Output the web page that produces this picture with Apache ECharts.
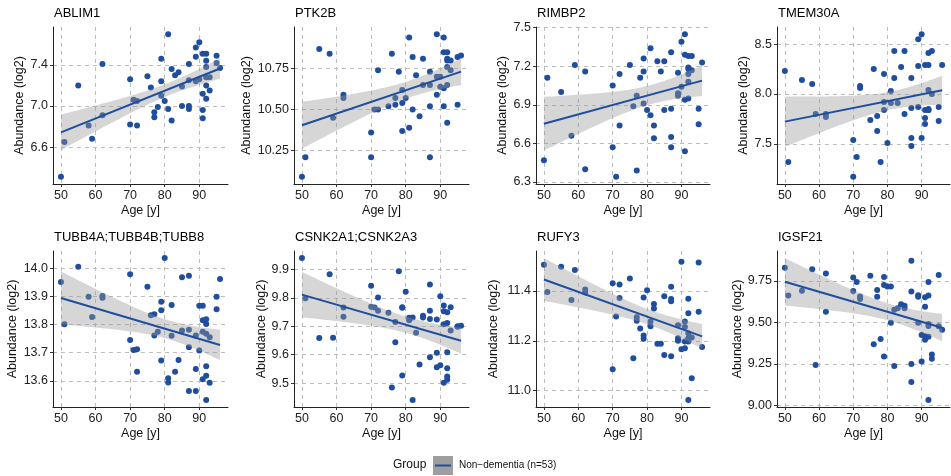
<!DOCTYPE html>
<html><head><meta charset="utf-8">
<script src="https://cdn.jsdelivr.net/npm/echarts@6/dist/echarts.min.js"></script>
<style>html,body{margin:0;padding:0;background:#fff}#c{width:951px;height:476px}</style>
</head><body><div id="c"></div>
<script>
// ---------- data ----------
const ages = [50,51,55,58,59,62,62,70,70,71,72,72,75,76,77,77,78,79,79,79,80,81,81,82,82,83,84,85,85,87,87,87,87,89,89,89,90,90,91,91,91,91,92,92,92,92,92,92,93,93,95,95,96];
const genes = ['ABLIM1','PTK2B','RIMBP2','TMEM30A','TUBB4A;TUBB4B;TUBB8','CSNK2A1;CSNK2A3','RUFY3','IGSF21'];
const ablim1 = [6.31,6.65,7.20,6.81,6.68,7.41,6.91,7.26,6.82,7.06,7.05,6.81,7.29,7.18,6.94,6.89,6.99,7.46,7.24,7.10,7.05,7.70,6.97,7.36,6.86,7.30,7.33,7.19,7.00,7.41,7.25,7.00,6.97,7.57,7.48,7.24,7.62,7.26,7.51,7.12,6.96,6.88,7.51,7.44,7.38,7.20,7.07,7.28,7.28,7.15,7.49,7.42,7.37];
const ptk2b = [10.09,10.21,10.87,10.84,10.45,10.59,10.57,10.36,10.21,10.50,10.74,10.50,10.52,10.84,10.57,10.53,10.73,10.62,10.54,10.37,10.57,10.94,10.39,10.82,10.50,10.71,10.46,10.81,10.65,10.73,10.65,10.52,10.21,10.96,10.70,10.59,10.70,10.64,10.94,10.85,10.63,10.52,10.81,10.85,10.80,10.76,10.65,10.42,10.80,10.74,10.82,10.53,10.83];
const rimbp2 = [6.47,7.11,7.00,6.66,7.21,7.16,6.40,7.05,6.57,6.34,7.14,6.74,7.21,6.89,6.97,6.39,7.11,7.26,7.16,6.91,6.86,7.34,6.82,6.74,6.64,7.24,7.16,7.24,6.86,7.31,6.87,6.65,6.57,7.15,6.99,6.97,7.39,7.04,7.45,7.29,6.94,6.54,7.28,7.19,7.14,7.08,6.95,7.18,7.28,7.17,6.87,6.75,7.23];
const tmem30a = [8.23,7.32,8.14,8.10,7.80,7.80,7.77,7.54,7.17,7.37,8.08,8.06,7.74,8.25,7.78,7.63,7.32,8.20,7.92,7.84,7.51,8.03,7.91,8.43,8.16,7.91,8.27,8.43,7.80,8.16,7.86,7.56,7.48,8.55,8.28,7.87,8.60,7.56,8.29,7.84,7.76,7.70,8.41,8.29,8.04,7.84,7.85,7.84,8.43,8.00,7.87,7.73,8.29];
const tubb4a = [13.951,13.801,14.005,13.899,13.827,13.901,13.895,13.979,13.745,13.709,13.712,13.632,13.934,13.833,13.836,13.761,13.774,13.881,13.851,13.672,14.036,13.609,13.594,13.869,13.760,13.632,13.674,13.968,13.779,13.973,13.781,13.719,13.564,13.761,13.642,13.564,13.867,13.708,13.867,13.815,13.774,13.605,13.819,13.767,13.618,13.532,13.802,13.652,13.755,13.593,13.899,13.854,13.962];
const csnk2a1 = [9.940,9.799,9.659,9.883,9.660,9.766,9.734,9.843,9.769,9.766,9.801,9.755,9.748,9.485,9.715,9.644,9.894,9.767,9.765,9.527,9.822,9.721,9.730,9.731,9.441,9.677,9.566,9.737,9.731,9.847,9.755,9.726,9.591,9.724,9.607,9.556,9.806,9.563,9.773,9.753,9.707,9.501,9.749,9.712,9.609,9.523,9.512,9.552,9.767,9.685,9.700,9.698,9.702];
const rufy3 = [11.505,11.396,11.497,11.364,11.484,11.406,11.394,11.431,11.086,11.297,11.426,11.372,11.450,11.130,11.294,11.280,11.249,11.374,11.221,11.208,11.403,11.277,11.258,11.348,11.330,11.188,11.188,11.379,11.143,11.417,11.368,11.359,11.138,11.262,11.210,11.200,11.517,11.166,11.277,11.255,11.197,11.170,11.369,11.310,11.230,10.963,11.197,11.210,11.213,11.050,11.514,11.316,11.175];
const igsf21 = [9.830,9.662,9.691,9.820,9.244,9.795,9.564,9.770,9.689,9.744,9.656,9.641,9.781,9.369,9.695,9.654,9.400,9.773,9.725,9.295,9.717,9.717,9.498,9.576,9.238,9.586,9.609,9.600,9.586,9.871,9.686,9.250,9.141,9.664,9.654,9.498,9.424,9.264,9.652,9.594,9.396,9.416,9.744,9.662,9.479,9.414,9.033,9.490,9.307,9.281,9.785,9.477,9.455];
const xTickLabels = ['50','60','70','80','90'];
const yTickLabels = [
  ['6.6','7.0','7.4'],
  ['10.25','10.50','10.75'],
  ['6.3','6.6','6.9','7.2','7.5'],
  ['7.5','8.0','8.5'],
  ['13.6','13.7','13.8','13.9','14.0'],
  ['9.5','9.6','9.7','9.8','9.9'],
  ['11.0','11.2','11.4'],
  ['9.00','9.25','9.50','9.75']
];
const groupName = 'Non\u2212dementia (n=53)';
// ---------- layout ----------
const values = [ablim1, ptk2b, rimbp2, tmem30a, tubb4a, csnk2a1, rufy3, igsf21];
const FONT = '"Liberation Sans", Arial, Helvetica, sans-serif';
const BLUE = '#1F4E9E';
const gridLefts = [53, 294, 536, 777];
const gridWidths = [175, 175, 174, 173];
const rowTop = [27, 251], rowH = [157, 156];
const nameGaps = [27, 41, 27, 27, 34, 26, 36, 33];

function fit(xs, ys) {
  const n = xs.length;
  const xb = xs.reduce((a, b) => a + b, 0) / n, yb = ys.reduce((a, b) => a + b, 0) / n;
  let sxx = 0, sxy = 0;
  for (let i = 0; i < n; i++) { sxx += (xs[i] - xb) ** 2; sxy += (xs[i] - xb) * (ys[i] - yb); }
  const b = sxy / sxx, a = yb - b * xb;
  let sse = 0;
  for (let i = 0; i < n; i++) sse += (ys[i] - a - b * xs[i]) ** 2;
  const s = Math.sqrt(sse / (n - 2)), t = 2.00758;
  const x0 = Math.min(...xs), x1 = Math.max(...xs);
  const bx = [], lo = [], hi = [];
  for (let k = 0; k <= 80; k++) {
    const x = x0 + (x1 - x0) * k / 80;
    const yh = a + b * x, se = s * Math.sqrt(1 / n + (x - xb) ** 2 / sxx);
    bx.push(x); lo.push(yh - t * se); hi.push(yh + t * se);
  }
  return { a, b, x0, x1, bx, lo, hi };
}

const grids = [], xAxes = [], yAxes = [], series = [], titles = [];
const xt = xTickLabels.map(Number);
values.forEach((ys, i) => {
  const col = i % 4, row = Math.floor(i / 4);
  const f = fit(ages, ys);
  const ymin = Math.min(...ys, ...f.lo), ymax = Math.max(...ys, ...f.hi);
  const yr = ymax - ymin;
  const xmin = Math.min(...ages), xmax = Math.max(...ages), xr = xmax - xmin;
  grids.push({ left: gridLefts[col], width: gridWidths[col], top: rowTop[row], height: rowH[row], containLabel: false });
  titles.push({ text: genes[i], left: gridLefts[col] + 1, top: row ? 231 : 7, padding: 0,
    textStyle: { fontSize: 13, fontWeight: 'normal', color: '#000', fontFamily: FONT } });
  xAxes.push({ type: 'value', gridIndex: i, min: xmin - 0.05 * xr, max: xmax + 0.05 * xr,
    name: 'Age [y]', nameLocation: 'middle', nameGap: 20,
    nameTextStyle: { fontSize: 12.5, color: '#111', fontFamily: FONT },
    axisLine: { onZero: false, lineStyle: { color: '#222', width: 1 } },
    axisTick: { show: true, length: 3, customValues: xt, lineStyle: { color: '#333' } },
    axisLabel: { customValues: xt, margin: 5, fontSize: 12.5, color: '#222', fontFamily: FONT },
    splitLine: { show: true, lineStyle: { type: [4, 4], color: '#bdbdbd', width: 1 } } });
  const yt = yTickLabels[i].map(Number);
  const labelMap = {}; yTickLabels[i].forEach(s => labelMap[Number(s).toFixed(4)] = s);
  yAxes.push({ type: 'value', gridIndex: i, min: ymin - 0.05 * yr, max: ymax + 0.05 * yr,
    name: 'Abundance (log2)', nameLocation: 'middle', nameGap: nameGaps[i],
    nameTextStyle: { fontSize: 12.5, color: '#111', fontFamily: FONT },
    axisLine: { show: true, onZero: false, lineStyle: { color: '#222', width: 1 } },
    axisTick: { show: true, length: 3, customValues: yt, lineStyle: { color: '#333' } },
    axisLabel: { customValues: yt, margin: 5, fontSize: 12.5, color: '#222', fontFamily: FONT,
      formatter: v => labelMap[Number(v).toFixed(4)] || '' },
    splitLine: { show: true, lineStyle: { type: [4, 4], color: '#bdbdbd', width: 1 } } });
  series.push({ type: 'scatter', xAxisIndex: i, yAxisIndex: i, z: 2, symbolSize: 6, silent: true,
    itemStyle: { color: BLUE, opacity: 1 }, data: ages.map((a, k) => [a, ys[k]]) });
  series.push({ type: 'custom', xAxisIndex: i, yAxisIndex: i, z: 3, silent: true,
    data: [[f.x0, f.a + f.b * f.x0]],
    renderItem: (params, api) => {
      const pts = [];
      for (let k = 0; k < f.bx.length; k++) pts.push(api.coord([f.bx[k], f.hi[k]]));
      for (let k = f.bx.length - 1; k >= 0; k--) pts.push(api.coord([f.bx[k], f.lo[k]]));
      return { type: 'polygon', shape: { points: pts }, style: { fill: 'rgba(153,153,153,0.4)' } };
    } });
  series.push({ type: 'line', xAxisIndex: i, yAxisIndex: i, z: 4, silent: true, showSymbol: false,
    lineStyle: { color: BLUE, width: 2 }, data: [[f.x0, f.a + f.b * f.x0], [f.x1, f.a + f.b * f.x1]] });
});

const chart = echarts.init(document.getElementById('c'), null, { renderer: 'canvas' });
chart.setOption({
  animation: false,
  backgroundColor: '#fff',
  title: titles,
  grid: grids, xAxis: xAxes, yAxis: yAxes, series: series,
  graphic: [
    { type: 'text', left: 393, top: 459, style: { text: 'Group', fontSize: 12, fill: '#111', fontFamily: FONT } },
    { type: 'rect', left: 433, top: 456, shape: { width: 20, height: 19 }, style: { fill: '#9e9e9e' } },
    { type: 'line', shape: { x1: 435, y1: 465.5, x2: 451, y2: 465.5 }, style: { stroke: BLUE, lineWidth: 2 } },
    { type: 'text', left: 459, top: 460, style: { text: groupName, fontSize: 10, fill: '#111', fontFamily: FONT } }
  ]
});
</script></body></html>
